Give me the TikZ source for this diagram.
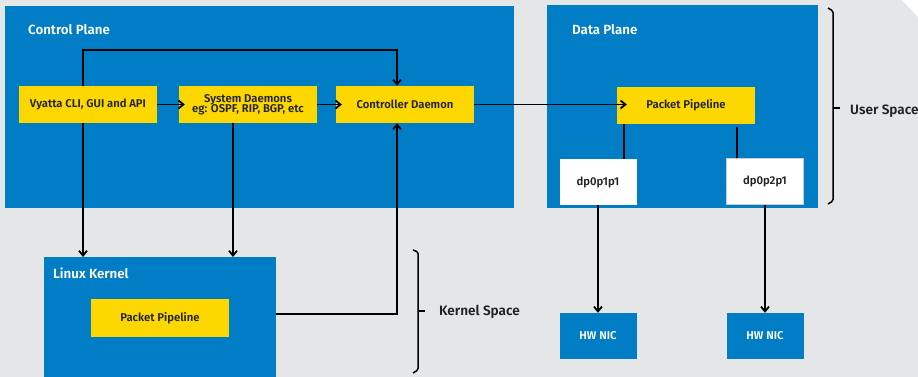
\documentclass[tikz,border=0pt]{standalone}
\usepackage{fontspec}
\setmainfont{Fira Sans}[BoldFont={Fira Sans SemiBold}]
\usepackage{xcolor}
\usetikzlibrary{arrows.meta, calc}
\definecolor{planeblue}{RGB}{0, 125, 197}
\definecolor{daemonyellow}{RGB}{252, 215, 0}
\definecolor{pagegray}{RGB}{229, 230, 232}
\definecolor{inkgray}{RGB}{35, 35, 35}

\begin{document}
\begin{tikzpicture}[
  x=1pt, y=-1pt,
  every node/.style={font=\bfseries\fontsize{11.3}{12.5}\selectfont, text=inkgray},
  plane/.style={fill=planeblue, minimum width=#1, inner sep=0pt, anchor=north west},
  daemon/.style={fill=daemonyellow, minimum width=138pt, minimum height=37pt, inner sep=1pt, align=center},
  port/.style={fill=white, minimum width=77pt, minimum height=46pt, inner sep=0pt},
  nic/.style={fill=planeblue, text=white, minimum width=77pt, minimum height=46pt, inner sep=0pt},
  title/.style={font=\bfseries\fontsize{13.3}{15}\selectfont, text=white, anchor=west, inner sep=0pt},
  space/.style={font=\bfseries\fontsize{13.6}{15}\selectfont, anchor=west, inner sep=0pt},
  arrow/.style={-{Straight Barb[length=1.7mm, width=2.8mm]}, line width=1.8pt, black},
  link/.style={line width=1.8pt, black},
  brace/.style={line width=1.5pt, black, rounded corners=1.5pt}
]
  \useasboundingbox[fill=pagegray] (0,0) rectangle (918,377);
  \fill[white] (902,0) -- (918,0) -- (918,17) -- cycle;

  % Planes
  \node[plane=509pt, minimum height=202pt] (control) at (5,6) {};
  \node[title] (controlt) at (28,30) {Control Plane};
  \node[plane=271pt, minimum height=203pt] (data) at (547,5) {};
  \node[title] (datat) at (572,30) {Data Plane};
  \node[plane=232pt, minimum height=125pt] (kernel) at (44,257) {};
  \node[title] (kernelt) at (53,273) {Linux Kernel};

  % Control plane daemons
  \node[daemon] (vyatta) at (88,104.5) {Vyatta CLI, GUI and API};
  \node[daemon] (sysd) at (248,104.5) {System Daemons\\[-3pt]eg: OSPF, RIP, BGP, etc};
  \node[daemon] (ctrl) at (405,104.5) {Controller Daemon};

  % Data plane
  \node[daemon] (dpipe) at (686,105.5) {Packet Pipeline};
  \node[port] (dp1) at (598,182) {dp0p1p1};
  \node[port, draw=gray!40, line width=0.6pt] (dp2) at (765,181.5) {dp0p2p1};
  \node[nic] (nic1) at (598,336) {HW NIC};
  \node[nic] (nic2) at (765,336) {HW NIC};

  % Kernel
  \node[daemon, minimum height=38pt] (kpipe) at (160,318) {Packet Pipeline};

  % Spaces
  \node[space] (user) at (850,111) {User Space};
  \node[space] (kspace) at (439,312) {Kernel Space};
  \draw[brace] (828,8) -- (833,11) -- (833,201) -- (828,204);
  \draw[brace] (833,108) -- (840,108);
  \draw[brace] (413,250) -- (418,252) -- (418,370) -- (413,373);
  \draw[brace] (418,311) -- (425,311);

  % Arrows
  \coordinate (loop) at (83,50);
  \draw[arrow] (vyatta.north -| loop) -- (loop) -| ([xshift=-8pt]ctrl.north);
  \draw[arrow] (vyatta.south -| loop) -- (loop |- kernel.north);
  \draw[arrow] ([xshift=-15pt]sysd.south) -- ([xshift=-15pt]sysd.south |- kernel.north);
  \draw[arrow, shorten >=-6pt] (vyatta) -- (sysd);
  \draw[arrow, shorten >=-6pt] (sysd) -- (ctrl);
  \draw[arrow, shorten >=-10pt] (ctrl) -- (dpipe.west |- ctrl);
  \draw[arrow] ([yshift=5.5pt]kernel.east) -| ([xshift=-8pt]ctrl.south);

  \draw[link] ([xshift=26pt]dp1.north) -- ([xshift=26pt]dp1.north |- dpipe.south);
  \draw[link] ([xshift=-28pt]dp2.north) -- ([xshift=-28pt,yshift=-3pt]dp2.north |- dpipe.south);
  \draw[arrow] (dp1) -- (nic1);
  \draw[arrow] (dp2) -- (nic2);

\end{tikzpicture}
\end{document}
